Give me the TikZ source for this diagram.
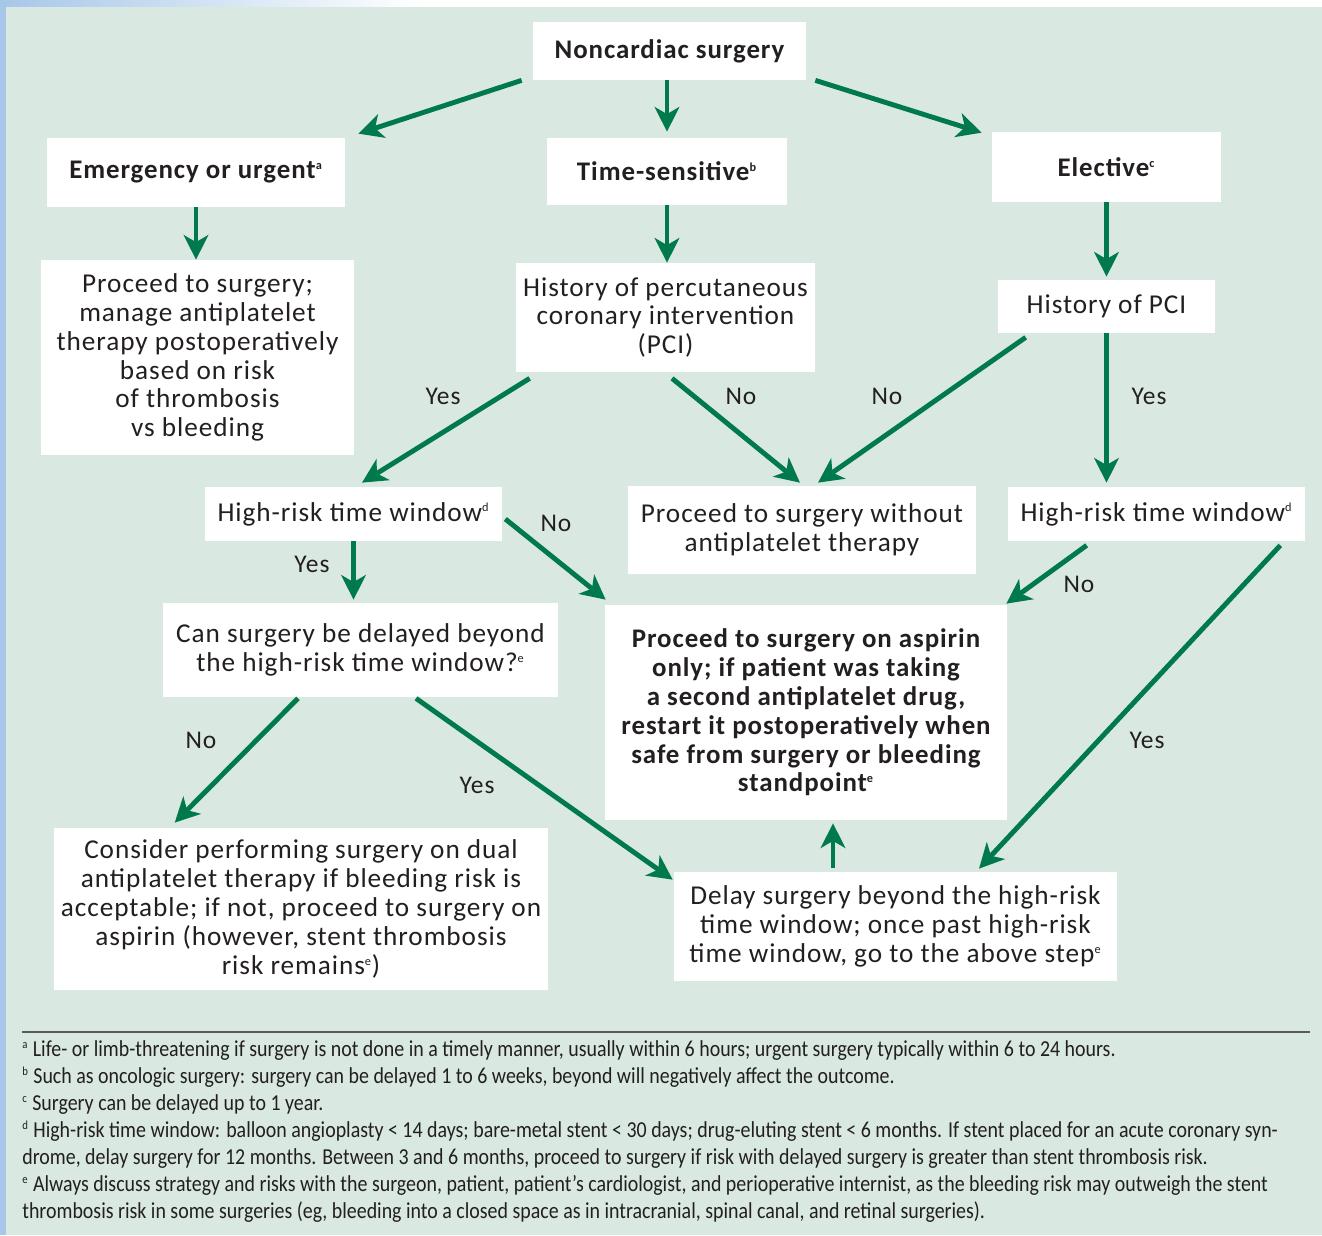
\documentclass[tikz,border=0pt]{standalone}
\usepackage{fontspec}
\setmainfont{Carlito}[LetterSpace=3.5]
\newfontfamily\notefont[FakeStretch=0.872]{Carlito}
\usetikzlibrary{arrows.meta}
\definecolor{bggreen}{HTML}{D9E9E1}
\definecolor{arrgreen}{HTML}{007A4C}
\definecolor{edgeblue}{HTML}{A7C7E8}
\definecolor{textgray}{HTML}{231F20}
\newcommand{\fnm}[1]{\textsuperscript{\scriptsize #1}}

\begin{document}
\begin{tikzpicture}[x=0.02cm,y=-0.02cm,
  box/.style={fill=white,inner sep=0pt,align=center,text=textgray,font=\fontsize{15.5}{16.4}\selectfont},
  head/.style={box,font=\fontsize{15.3}{16.4}\selectfont\bfseries},
  arr/.style={arrgreen,line width=2.8pt,-{Stealth[length=14pt,width=14pt,inset=4pt]}},
  lbl/.style={text=textgray,inner sep=0pt,font=\fontsize{14.5}{16.4}\selectfont}]
\useasboundingbox (0,0) rectangle (1322,1235);
\fill [white] (0,0) rectangle (1322,7);
\shade [left color=edgeblue,right color=white] (0,0) rectangle (420,7);
\fill [edgeblue] (0,0) rectangle (6,1235);
\fill [bggreen] (6,7) rectangle (1322,1235);

\node (noncard) [head,minimum width=5.46cm,minimum height=1.16cm] at (669.5,51) {Noncardiac surgery};
\node (emerg) [head,minimum width=5.96cm,minimum height=1.38cm] at (196,172.5) {Emergency or urgent\fnm{a}};
\node (timesens) [head,minimum width=4.8cm,minimum height=1.34cm] at (667,171.5) {Time-sensitive\fnm{b}};
\node (elect) [head,minimum width=4.58cm,minimum height=1.4cm] at (1106.5,167) {Elective\fnm{c}};
\node (proceed) [box,minimum width=6.26cm,minimum height=3.9cm] at (197.5,357.5) {Proceed to surgery;\\ manage antiplatelet\\ therapy postoperatively\\ based on risk\\ of thrombosis\\ vs bleeding};
\node (histpci) [box,minimum width=5.98cm,minimum height=2.18cm] at (665.5,317.5) {History of percutaneous\\ coronary intervention\\ (PCI)};
\node (histpcib) [box,minimum width=4.34cm,minimum height=1.06cm] at (1106.5,306.5) {History of PCI};
\node (hrleft) [box,minimum width=5.94cm,minimum height=1.08cm] at (353.5,514) {High-risk time window\fnm{d}};
\node (noapt) [box,minimum width=6.96cm,minimum height=1.76cm] at (802,530) {Proceed to surgery without\\ antiplatelet therapy};
\node (hrright) [box,minimum width=5.94cm,minimum height=1.08cm] at (1156.5,514) {High-risk time window\fnm{d}};
\node (candelay) [box,minimum width=7.9cm,minimum height=1.88cm] at (360.5,650) {Can surgery be delayed beyond\\ the high-risk time window?\fnm{e}};
\node (aspirin) [head,minimum width=8.04cm,minimum height=4.3cm] at (806,712.5) {Proceed to surgery on aspirin\\ only; if patient was taking\\ a second antiplatelet drug,\\ restart it postoperatively when\\ safe from surgery or bleeding\\ standpoint\fnm{e}};
\node (consider) [box,minimum width=9.88cm,minimum height=3.24cm] at (301,909) {Consider performing surgery on dual\\ antiplatelet therapy if bleeding risk is\\ acceptable; if not, proceed to surgery on\\ aspirin (however, stent thrombosis\\ risk remains\fnm{e})};
\node (delay) [box,minimum width=8.86cm,minimum height=2.18cm] at (895.5,926.5) {Delay surgery beyond the high-risk\\ time window; once past high-risk\\ time window, go to the above step\fnm{e}};

\draw [arr] ([shift={(-11,0)}]noncard.south west) -- ([shift={(13,-4)}]emerg.north east);
\draw [arr] (noncard.south -| timesens.north) -- ([shift={(0,-6)}]timesens.north);
\draw [arr] ([shift={(9,0)}]noncard.south east) -- ([shift={(-10,1)}]elect.north west);
\draw [arr] (emerg) -- (emerg |- proceed.north);
\draw [arr] (timesens) -- (timesens |- histpci.north);
\draw [arr] (elect) -- ([shift={(0,-3)}]elect |- histpcib.north);
\draw [arr] ([shift={(14,6)}]histpci.south west) -- ([shift={(8.5,-4)}]hrleft.north);
\draw [arr] ([shift={(6.5,6)}]histpci.south) -- ([shift={(-2,-3)}]noapt.north);
\draw [arr] ([shift={(28,4)}]histpcib.south west) -- ([shift={(16,-3)}]noapt.north);
\draw [arr] (histpcib) -- ([shift={(0,-4)}]histpcib |- hrright.north);
\draw [arr] (hrleft) -- ([shift={(0,-3)}]hrleft |- candelay.north);
\draw [arr] ([shift={(3,5)}]hrleft.east) -- ([shift={(1,-5)}]aspirin.north west);
\draw [arr] ([shift={(79,4)}]hrright.south west) -- ([shift={(-1,-1)}]aspirin.north east);
\draw [arr] ([shift={(-25,4)}]hrright.south east) -- ([shift={(83.5,-3)}]delay.north);
\draw [arr] ([shift={(-62.5,1)}]candelay.south) -- ([shift={(121,-5)}]consider.north west);
\draw [arr] ([shift={(55.5,1)}]candelay.south) -- ([shift={(-1,8)}]delay.north west);
\draw [arr] ([shift={(-62.5,-4)}]delay.north) -- ([shift={(27,3)}]aspirin.south);

\node (yes1) [lbl] at (443,396) {Yes};
\node (no1) [lbl] at (741,396) {No};
\node (no2) [lbl] at (887,396) {No};
\node (yes2) [lbl] at (1149,396) {Yes};
\node (yes3) [lbl] at (312,564) {Yes};
\node (no3) [lbl] at (556,523) {No};
\node (no4) [lbl] at (1079,584) {No};
\node (yes4) [lbl] at (1147,740) {Yes};
\node (no5) [lbl] at (201,740) {No};
\node (yes5) [lbl] at (477,785) {Yes};

\draw [black!65,line width=1.1pt] (22,1032) -- (1310,1032);
\node (notes) [anchor=north west,align=left,inner sep=0pt,text=textgray,font=\notefont\fontsize{13}{15.37}\selectfont] at (22,1040)
 {\fnm{a} Life- or limb-threatening if surgery is not done in a timely manner, usually within 6 hours; urgent surgery typically within 6 to 24 hours.\\
  \fnm{b} Such as oncologic surgery: surgery can be delayed 1 to 6 weeks, beyond will negatively affect the outcome.\\
  \fnm{c} Surgery can be delayed up to 1 year.\\
  \fnm{d} High-risk time window: balloon angioplasty < 14 days; bare-metal stent < 30 days; drug-eluting stent < 6 months. If stent placed for an acute coronary syn-\\
  drome, delay surgery for 12 months. Between 3 and 6 months, proceed to surgery if risk with delayed surgery is greater than stent thrombosis risk.\\
  \fnm{e} Always discuss strategy and risks with the surgeon, patient, patient’s cardiologist, and perioperative internist, as the bleeding risk may outweigh the stent\\
  thrombosis risk in some surgeries (eg, bleeding into a closed space as in intracranial, spinal canal, and retinal surgeries).};
\end{tikzpicture}
\end{document}
